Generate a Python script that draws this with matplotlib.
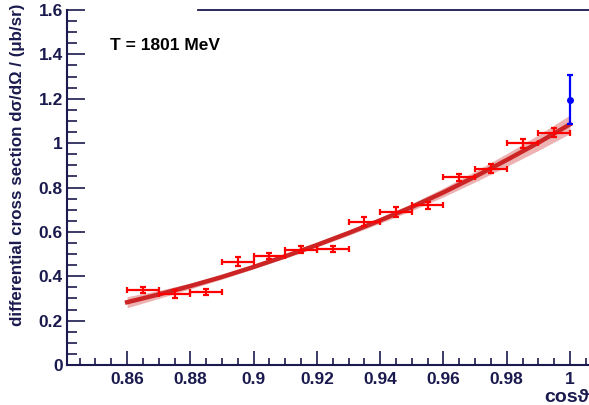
import matplotlib
matplotlib.use("Agg")
import matplotlib.pyplot as plt
from matplotlib.ticker import MultipleLocator

# measured points (red)
cos_pts = [0.865, 0.875, 0.885, 0.895, 0.905, 0.915, 0.925,
           0.935, 0.945, 0.955, 0.965, 0.975, 0.985, 0.995]
xs_pts = [0.337, 0.319, 0.329, 0.466, 0.491, 0.520, 0.523,
          0.646, 0.691, 0.720, 0.846, 0.885, 0.999, 1.047]
xs_err = [0.013, 0.017, 0.012, 0.020, 0.014, 0.016, 0.013,
          0.019, 0.023, 0.015, 0.017, 0.021, 0.020, 0.019]
cos_half = 0.005

# extrapolated point at cos = 1 (blue)
cos_zero = [1.0]
xs_zero = [1.196]
err_zero = [0.111]

# fit curve and its band
cos_fit = [0.86, 0.87, 0.88, 0.89, 0.90, 0.91, 0.92, 0.93,
           0.94, 0.95, 0.96, 0.97, 0.98, 0.99, 1.00]
xs_fit = [0.283, 0.318, 0.356, 0.397, 0.442, 0.490, 0.541, 0.595,
          0.652, 0.712, 0.778, 0.849, 0.924, 1.002, 1.085]
band_half = [0.025, 0.018, 0.013, 0.010, 0.008, 0.008, 0.009, 0.011,
             0.013, 0.016, 0.020, 0.024, 0.029, 0.035, 0.042]

navy = '#1a1a4e'
plt.rcParams['font.family'] = ['Liberation Sans', 'DejaVu Sans']
plt.rcParams['font.weight'] = 'bold'
fs = 12.5

fig = plt.figure(figsize=(5.89, 4.05), dpi=100)
ax = fig.add_axes([67/589, 1 - 365/405, 1 - 67/589, 355/405])

lo = [y - b for y, b in zip(xs_fit, band_half)]
hi = [y + b for y, b in zip(xs_fit, band_half)]
ax.fill_between(cos_fit, lo, hi, color='#e79a9a', alpha=0.75, lw=0, zorder=1)
ax.plot(cos_fit, xs_fit, color='#cc2424', lw=3.2, zorder=2)

ax.errorbar(cos_pts, xs_pts, xerr=cos_half, yerr=xs_err, fmt='none',
            ecolor='#ff0000', elinewidth=1.6, capsize=2.2, capthick=1.6, zorder=3)
ax.errorbar(cos_zero, xs_zero, yerr=err_zero, fmt='o', color='#0000ff',
            ms=4, elinewidth=1.6, capsize=2.5, capthick=1.6, zorder=4)

ax.set_xlim(0.841, 1.006)
ax.set_ylim(0, 1.6)

ax.xaxis.set_major_locator(MultipleLocator(0.02))
ax.xaxis.set_minor_locator(MultipleLocator(0.005))
ax.yaxis.set_major_locator(MultipleLocator(0.2))
ax.yaxis.set_minor_locator(MultipleLocator(0.05))
ax.xaxis.set_major_formatter(plt.FuncFormatter(lambda v, p: ('%g' % round(v, 3))))
ax.yaxis.set_major_formatter(plt.FuncFormatter(lambda v, p: ('%g' % round(v, 3))))

ax.tick_params(which='both', direction='in', colors=navy, width=1.2,
               labelsize=fs, labelcolor=navy)
ax.tick_params(axis='x', which='major', length=10, pad=5)
ax.tick_params(axis='x', which='minor', length=5)
ax.tick_params(axis='y', which='major', length=13, pad=3)
ax.tick_params(axis='y', which='minor', length=7)
for lab in ax.get_xticklabels() + ax.get_yticklabels():
    lab.set_fontweight('bold')

ax.spines['top'].set_visible(False)
ax.spines['right'].set_visible(False)
for s in ('left', 'bottom'):
    ax.spines[s].set_color(navy)
    ax.spines[s].set_linewidth(1.5)

# partial top border line
ax.plot([(198 - 67) / 522, 1.0], [1.0, 1.0], transform=ax.transAxes,
        color=navy, lw=1.3, clip_on=False)

fig.text(110/589, 1 - 45/405, 'T = 1801 MeV', fontsize=fs, fontweight='bold',
         color='black', va='center', ha='left')
fig.text(18/589, 1 - 4/405, 'differential cross section dσ/dΩ / (μb/sr)',
         rotation=90, fontsize=12.2, fontweight='bold', color=navy,
         va='top', ha='center')
fig.text(589/589, 1 - 402/405, 'cosϑ', fontsize=14, fontweight='bold',
         color=navy, va='baseline', ha='right')

fig.savefig('out.png', dpi=100)
